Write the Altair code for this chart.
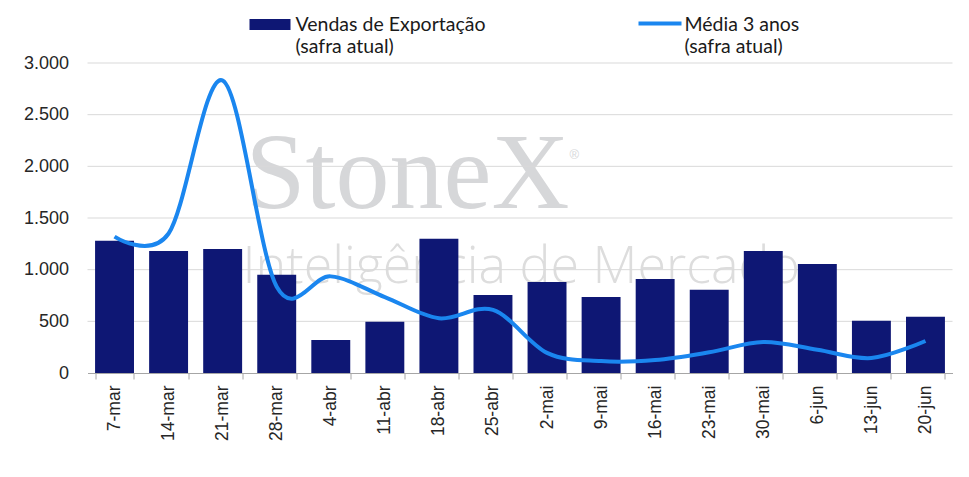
import altair as alt
import pandas as pd

weeks = ["7-mar", "14-mar", "21-mar", "28-mar", "4-abr", "11-abr", "18-abr", "25-abr",
         "2-mai", "9-mai", "16-mai", "23-mai", "30-mai", "6-jun", "13-jun", "20-jun"]
vendas = [1280, 1180, 1200, 950, 320, 495, 1300, 755, 880, 735, 910, 805, 1180, 1055, 505, 545]
media = [1320, 1350, 2830, 835, 935, 735, 530, 610, 195, 115, 125, 200, 300, 225, 145, 310]
grid_values = [500, 1000, 1500, 2000, 2500, 3000]
y_ticks = [0, 500, 1000, 1500, 2000, 2500, 3000]

BAR = "#0e1774"
LINE = "#1a86ef"
GRAY = "#d6d7d9"

df = pd.DataFrame({"semana": weeks, "vendas": vendas, "media": media})
grid_df = pd.DataFrame({"v": grid_values})

W, H = 865, 310

x = alt.X("semana:N", sort=weeks,
          scale=alt.Scale(paddingInner=0.28, paddingOuter=0.14),
          axis=alt.Axis(title=None, labelAngle=270, labelFont="Liberation Sans",
                        labelFontSize=17.5, labelColor="#262626", labelPadding=6,
                        tickBand="extent", tickSize=6, tickColor="#a6a6a6",
                        domainColor="#a6a6a6", grid=False))
yscale = alt.Scale(domain=[0, 3000], nice=False)
yaxis = alt.Axis(title=None, values=y_ticks,
                 labelExpr="replace(format(datum.value, ','), ',', '.')",
                 labelFont="Liberation Sans", labelFontSize=18,
                 labelColor="#262626", labelPadding=19,
                 ticks=False, domain=False, grid=False)

base = alt.Chart(df)

# watermark
wm1 = alt.Chart(pd.DataFrame({"t": ["StoneX"]})).mark_text(
    font="Liberation Serif", fontSize=108, color=GRAY, align="left", baseline="alphabetic"
).encode(text="t:N", x=alt.value(158), y=alt.value(145))
wm_r = alt.Chart(pd.DataFrame({"t": ["®"]})).mark_text(
    font="Liberation Sans", fontSize=13, color=GRAY, align="left", baseline="alphabetic"
).encode(text="t:N", x=alt.value(482), y=alt.value(96))
wm2 = alt.Chart(pd.DataFrame({"t": ["Inteligência de Mercado"]})).mark_text(
    font="Open Sans", fontSize=52, color="#dddddd", align="left", baseline="alphabetic",
    fontWeight=300
).encode(text="t:N", x=alt.value(155), y=alt.value(220))

grid = alt.Chart(grid_df).mark_rule(color="#d9d9d9", strokeWidth=1).encode(
    y=alt.Y("v:Q", scale=yscale, axis=yaxis)
)

bars = base.mark_bar(color=BAR).encode(
    x=x,
    y=alt.Y("vendas:Q", scale=yscale, axis=yaxis)
)

line = base.mark_line(color=LINE, strokeWidth=4, interpolate="cardinal", tension=0).encode(
    x=alt.X("semana:N", sort=weeks),
    y=alt.Y("media:Q", scale=yscale)
)

# legend
leg_rect = alt.Chart(pd.DataFrame({"a": [1]})).mark_rect(color=BAR).encode(
    x=alt.value(162), x2=alt.value(203), y=alt.value(-44), y2=alt.value(-33))
leg_t1 = alt.Chart(pd.DataFrame({"t": ["Vendas de Exportação\n(safra atual)"]})).mark_text(
    font="Lato", fontSize=19.5, color="#1a1a1a", align="left", baseline="alphabetic",
    lineBreak="\n", lineHeight=22
).encode(text="t:N", x=alt.value(208), y=alt.value(-32))
leg_line = alt.Chart(pd.DataFrame({"a": [1]})).mark_rule(color=LINE, strokeWidth=4).encode(
    x=alt.value(551), x2=alt.value(594), y=alt.value(-39.5))
leg_t2 = alt.Chart(pd.DataFrame({"t": ["Média 3 anos\n(safra atual)"]})).mark_text(
    font="Lato", fontSize=19.5, color="#1a1a1a", align="left", baseline="alphabetic",
    lineBreak="\n", lineHeight=22
).encode(text="t:N", x=alt.value(597), y=alt.value(-32))

chart = alt.layer(wm1, wm_r, wm2, grid, bars, line, leg_rect, leg_t1, leg_line, leg_t2).properties(
    width=W, height=H,
    background="white",
    autosize=alt.AutoSizeParams(type="none"),
    padding={"left": 87.5, "top": 63, "right": 16.5, "bottom": 104}
).configure_view(strokeWidth=0, stroke="transparent")

chart.save("out.html", embed_options={"renderer": "svg", "actions": False})
